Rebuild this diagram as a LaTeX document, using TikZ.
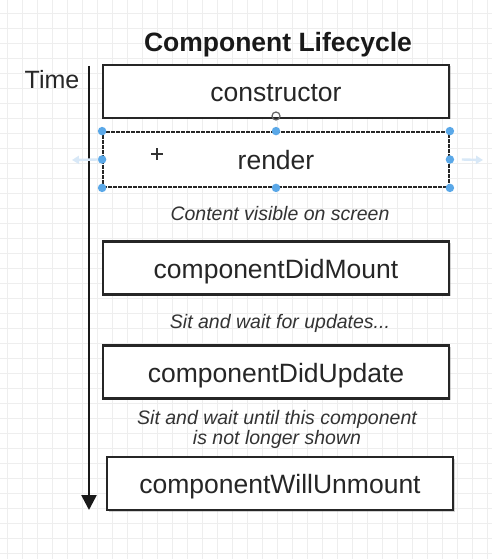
\documentclass[tikz,border=0pt]{standalone}
\usepackage{fontspec}
\setmainfont{Liberation Sans}
\usetikzlibrary{arrows.meta,shadows}
\definecolor{gridc}{HTML}{EEEEEE}
\definecolor{handle}{HTML}{5AA8E8}
\definecolor{ghost}{HTML}{D8E8F7}
\tikzset{
  stagebox/.style={draw=black!85, line width=2.6pt, fill=white, minimum width=346pt, minimum height=53pt, inner sep=0pt, text height=24pt, text depth=4pt, font=\fontsize{26.5}{30}\selectfont, text=black!85, drop shadow={shadow xshift=1.5pt, shadow yshift=-1.5pt, opacity=0.35}},
  selbox/.style={draw=black!85, line width=1.8pt, dashed, dash pattern=on 4pt off 1pt, fill=white, minimum width=346pt, minimum height=55pt, inner sep=0pt, text height=24pt, text depth=4pt, font=\fontsize{26.5}{30}\selectfont, text=black!85},
  note/.style={font=\fontsize{19.5}{23}\selectfont\itshape, text=black!80, align=center},
  hdl/.style={circle, fill=handle, inner sep=0pt, minimum size=8.5pt},
  ghostarrow/.style={ghost, line width=2.4pt, -{Triangle[width=8pt,length=7pt]}}
}
\begin{document}
\begin{tikzpicture}[x=1pt,y=-1pt]
\useasboundingbox (0,0) rectangle (492,559);
\fill[white] (0,0) rectangle (492,559);
\foreach \gx in {7,22,...,492} \draw[gridc, line width=0.6pt] (\gx,0) -- (\gx,559);
\foreach \gy in {13,28,...,559} \draw[gridc, line width=0.6pt] (0,\gy) -- (492,\gy);

\node[font=\fontsize{26.5}{30}\selectfont\bfseries, text=black!90] (title) at (278,45) {Component Lifecycle};
\node[font=\fontsize{25}{30}\selectfont, text=black!85] (time) at (52,80) {Time};

\coordinate (ttop) at (89,66);
\coordinate (tbot) at (89,510);
\draw[line width=2.6pt, black!90, -{Triangle[width=15pt,length=15pt]}] (ttop) -- (tbot);

\node[stagebox] (ctor) at (276,91.5) {constructor};
\node[selbox] (render) at (276,159.5) {render};
\node[note] (n1) at (280,214) {Content visible on screen};
\node[stagebox] (mount) at (276,268) {componentDidMount};
\node[note] (n2) at (280,323) {Sit and wait for updates...};
\node[stagebox] (update) at (276,372) {componentDidUpdate};
\node[note] (n3) at (277,429) {Sit and wait until this component\\[-3pt]is not longer shown};
\node[stagebox] (unmount) at (280,483.5) {componentWillUnmount};

% selection handles
\foreach \a in {north west,north,north east,west,east,south west,south,south east}
  \node[hdl] at (render.\a) {};
\coordinate (gl) at (72,160);
\coordinate (gr) at (483,160);
\draw[ghostarrow] ([xshift=-4pt]render.west) -- (gl);
\draw[ghostarrow] ([xshift=12pt]render.east) -- (gr);

% cursor marks
\draw[black!80, line width=1.8pt] (151,154) -- (163,154) (157,148) -- (157,160);
\draw[black!60, line width=1.2pt] (276,116) circle (4pt);
\end{tikzpicture}
\end{document}
